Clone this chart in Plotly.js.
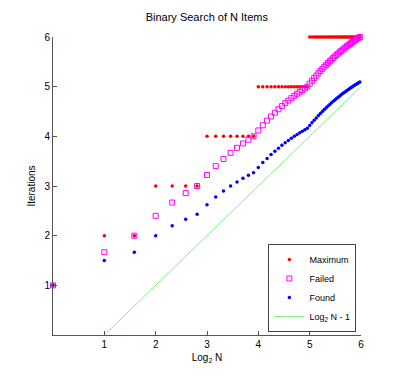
<!DOCTYPE html>
<html><head><meta charset="utf-8">
<script src="https://cdn.plot.ly/plotly-3.0.1.min.js"></script>
<style>body{margin:0;background:#fff}#c{width:400px;height:378px}</style>
</head><body><div id="c"></div>
<script>
const N = [1,2,3,4,5,6,7,8,9,10,11,12,13,14,15,16,17,18,19,20,21,22,23,24,25,26,27,28,29,30,31,32,33,34,35,36,37,38,39,40,41,42,43,44,45,46,47,48,49,50,51,52,53,54,55,56,57,58,59,60,61,62,63];
const maximum = [1,2,2,3,3,3,3,4,4,4,4,4,4,4,4,5,5,5,5,5,5,5,5,5,5,5,5,5,5,5,5,6,6,6,6,6,6,6,6,6,6,6,6,6,6,6,6,6,6,6,6,6,6,6,6,6,6,6,6,6,6,6,6];
const failed = [1,1.667,2,2.4,2.667,2.857,3,3.222,3.4,3.545,3.667,3.769,3.857,3.933,4,4.118,4.222,4.316,4.4,4.476,4.545,4.609,4.667,4.72,4.769,4.815,4.857,4.897,4.933,4.968,5,5.061,5.118,5.171,5.222,5.270,5.316,5.359,5.4,5.439,5.476,5.512,5.545,5.578,5.609,5.638,5.667,5.694,5.72,5.745,5.769,5.792,5.815,5.836,5.857,5.877,5.897,5.915,5.933,5.951,5.968,5.984,6];
const found = [1,1.5,1.667,2,2.2,2.333,2.429,2.625,2.778,2.9,3,3.083,3.154,3.214,3.267,3.375,3.471,3.556,3.632,3.7,3.762,3.818,3.870,3.917,3.96,4,4.037,4.071,4.103,4.133,4.161,4.219,4.273,4.324,4.371,4.417,4.459,4.5,4.538,4.575,4.610,4.643,4.674,4.705,4.733,4.761,4.787,4.813,4.837,4.86,4.882,4.904,4.925,4.944,4.964,4.982,5,5.017,5.034,5.05,5.066,5.081,5.095];
const refX = [1, 6];
const refY = [0, 5];
const xTicks = [1,2,3,4,5,6];
const yTicks = [1,2,3,4,5,6];

const x = N.map(n => Math.log2(n));
const font = {family: 'Liberation Sans, Arial, sans-serif', size: 10, color: '#000'};

const traces = [
  {x: x, y: maximum, name: 'Maximum', type: 'scatter', mode: 'markers', cliponaxis: false,
   marker: {color: '#ff0000', size: 3.5, symbol: 'circle'}},
  {x: x, y: failed, name: 'Failed', type: 'scatter', mode: 'markers', cliponaxis: false,
   marker: {color: '#ff00ff', size: 5, symbol: 'square-open', line: {color: '#ff00ff', width: 1}}},
  {x: x, y: found, name: 'Found', type: 'scatter', mode: 'markers', cliponaxis: false,
   marker: {color: '#0000ff', size: 3.5, symbol: 'circle'}},
  {x: refX, y: refY, name: 'Log<sub>2</sub> N - 1', type: 'scatter', mode: 'lines',
   line: {color: '#80f080', width: 1}}
];

const layout = {
  width: 400, height: 378,
  margin: {l: 53, r: 39, t: 37, b: 43},
  paper_bgcolor: '#fff', plot_bgcolor: '#fff',
  font: font,
  showlegend: true,
  title: {text: 'Binary Search of N Items', font: {family: font.family, size: 11, color: '#000'}, x: 0.517, xanchor: 'center', y: 0.955, yanchor: 'middle'},
  xaxis: {range: [0, 6], tickvals: xTicks, ticks: 'inside', ticklen: 4, tickcolor: '#555',
    showline: true, linecolor: '#555', linewidth: 1, showgrid: false, zeroline: false,
    title: {text: 'Log<sub>2</sub> N', font: {size: 10}, standoff: 4}, tickfont: {size: 10}},
  yaxis: {range: [0, 6], tickvals: yTicks, ticks: 'inside', ticklen: 4, tickcolor: '#555',
    showline: true, linecolor: '#555', linewidth: 1, showgrid: false, zeroline: false,
    title: {text: 'Iterations', font: {size: 10}, standoff: 6}, tickfont: {size: 10}},
  legend: {x: 0.985, y: 0.01, xanchor: 'right', yanchor: 'bottom', bgcolor: '#fff',
    bordercolor: '#444', borderwidth: 1, font: {size: 9}, tracegroupgap: 0, itemwidth: 30}
};

Plotly.newPlot('c', traces, layout, {displayModeBar: false, staticPlot: true});
</script>
</body></html>
